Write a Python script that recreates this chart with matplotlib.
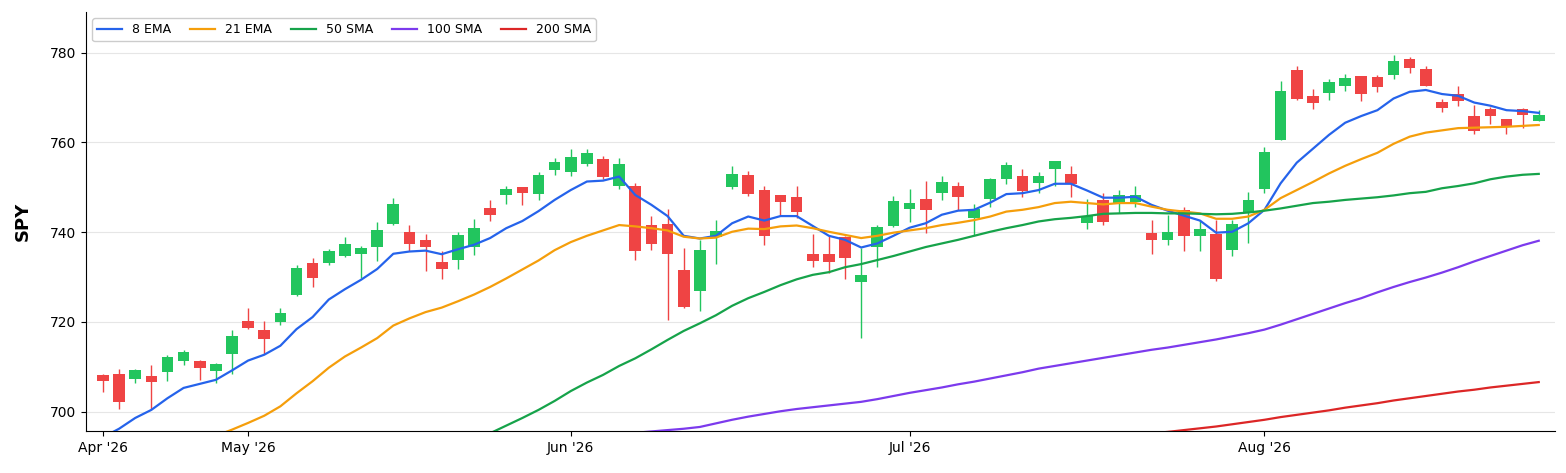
import numpy as np
import pandas as pd
import matplotlib
matplotlib.use("Agg")
import matplotlib.pyplot as plt

# trading days (NYSE holidays removed)
holidays = ["2026-05-25", "2026-06-19", "2026-07-03"]
dates = pd.bdate_range("2026-04-20", "2026-08-26")
dates = dates[~dates.isin(pd.to_datetime(holidays))]

opens = [708.2, 708.4, 707.2, 707.9, 708.8, 711.3, 711.3, 709.0, 712.8, 720.2,
         718.2, 719.9, 726.0, 733.1, 733.1, 734.6, 735.1, 736.7, 741.8, 740.0,
         738.3, 733.3, 733.8, 736.7, 745.3, 748.2, 750.0, 748.5, 753.9, 753.5,
         755.1, 756.3, 750.2, 750.4, 741.6, 741.9, 731.5, 726.8, 739.0, 750.0,
         752.7, 749.3, 748.2, 747.8, 735.1, 735.1, 739.0, 728.9, 736.8, 741.3,
         745.1, 747.3, 748.7, 750.2, 743.1, 747.3, 751.9, 752.5, 750.9, 754.2,
         752.9, 742.0, 747.2, 746.5, 746.7, 739.8, 738.3, 745.0, 739.1, 739.6,
         736.0, 744.4, 749.6, 760.6, 776.1, 770.3, 771.1, 772.6, 774.8, 774.7,
         775.0, 778.7, 776.3, 769.1, 770.7, 766.0, 767.4, 765.2, 767.5, 764.8]
highs = [708.4, 709.6, 709.6, 710.5, 712.7, 713.8, 711.5, 710.9, 718.1, 723.2,
         720.3, 723.2, 732.7, 734.3, 736.2, 739.0, 737.0, 742.2, 747.7, 741.6,
         739.6, 735.8, 740.0, 743.0, 747.2, 750.3, 750.1, 753.5, 756.5, 758.6,
         758.6, 757.0, 756.6, 751.0, 743.6, 745.2, 736.5, 738.3, 742.7, 754.8,
         753.6, 750.3, 748.3, 750.3, 739.5, 739.2, 739.2, 736.4, 741.6, 748.1,
         749.6, 751.5, 752.5, 751.1, 746.3, 752.0, 755.6, 754.2, 753.5, 755.9,
         754.8, 747.3, 748.7, 749.3, 750.2, 742.7, 743.9, 745.7, 742.7, 742.7,
         742.7, 749.0, 758.9, 773.8, 777.1, 771.9, 774.1, 775.2, 774.9, 775.1,
         779.6, 779.1, 777.0, 769.6, 772.6, 768.3, 768.0, 765.3, 767.6, 767.2]
lows = [704.3, 700.7, 706.3, 700.7, 706.9, 710.3, 707.1, 706.5, 708.5, 718.5,
        712.8, 719.4, 725.8, 727.9, 732.6, 734.5, 729.9, 733.5, 741.6, 735.8,
        731.4, 729.6, 731.8, 735.0, 742.5, 746.2, 746.1, 747.2, 752.8, 752.6,
        754.8, 751.9, 749.6, 733.7, 736.1, 720.5, 723.2, 722.5, 733.0, 749.6,
        748.0, 737.2, 743.8, 743.1, 732.2, 730.9, 729.5, 716.5, 732.2, 741.2,
        742.2, 739.9, 747.2, 745.0, 739.4, 745.6, 750.8, 747.9, 748.7, 750.2,
        747.9, 740.7, 741.5, 744.2, 745.7, 735.2, 737.2, 735.9, 735.9, 729.1,
        734.6, 737.7, 748.8, 760.5, 769.5, 767.5, 769.5, 771.5, 769.2, 771.3,
        774.1, 775.5, 772.5, 766.9, 768.2, 761.8, 764.1, 762.0, 763.2, 764.7]
closes = [706.8, 702.1, 709.2, 706.6, 712.2, 713.3, 709.7, 710.7, 716.9, 718.7,
          716.1, 722.0, 732.0, 729.8, 735.8, 737.3, 736.4, 740.5, 746.2, 737.3,
          736.8, 731.8, 739.3, 740.9, 743.8, 749.6, 748.7, 752.8, 755.7, 756.7,
          757.6, 752.4, 755.2, 735.8, 737.3, 735.1, 723.4, 736.0, 740.2, 752.9,
          748.5, 739.2, 746.7, 744.5, 733.6, 733.3, 734.3, 730.4, 741.1, 746.9,
          746.5, 744.9, 751.3, 747.8, 745.2, 751.8, 755.0, 749.1, 752.5, 755.8,
          750.8, 743.6, 742.2, 748.2, 748.2, 738.2, 740.0, 739.1, 740.8, 729.5,
          741.8, 747.1, 757.9, 771.5, 769.8, 768.7, 773.4, 774.3, 770.8, 772.4,
          778.1, 776.5, 772.7, 767.6, 769.2, 762.6, 765.8, 763.7, 766.1, 766.2]

# moving averages (first index where each series is listed)
ema8_start = 0
ema8 = [694.3, 696.2, 698.6, 700.4, 703.0, 705.3, 706.2, 707.1, 709.2, 711.4,
        712.7, 714.7, 718.4, 721.1, 725.0, 727.3, 729.4, 731.8, 735.2, 735.7,
        735.9, 735.1, 736.2, 737.2, 738.7, 740.9, 742.5, 744.7, 747.2, 749.4,
        751.3, 751.5, 752.4, 748.3, 746.1, 743.6, 739.2, 738.6, 739.2, 742.0,
        743.5, 742.6, 743.6, 743.6, 741.4, 739.2, 738.3, 736.6, 737.5, 739.2,
        741.0, 742.0, 743.9, 744.8, 745.0, 746.6, 748.5, 748.7, 749.4, 750.8,
        750.8, 749.3, 747.7, 747.7, 747.9, 746.1, 744.8, 743.7, 742.6, 739.9,
        740.1, 742.0, 745.0, 750.9, 755.5, 758.6, 761.7, 764.4, 765.9, 767.2,
        769.8, 771.3, 771.7, 770.8, 770.4, 768.9, 768.2, 767.2, 767.0, 766.6]
ema21_start = 7
ema21 = [694.6, 696.0, 697.5, 699.1, 701.2, 704.1, 706.8, 709.8, 712.3, 714.3,
         716.4, 719.2, 720.8, 722.2, 723.2, 724.6, 726.1, 727.8, 729.7, 731.7,
         733.7, 736.0, 737.8, 739.2, 740.4, 741.6, 741.3, 740.9, 740.4, 739.0,
         738.6, 738.8, 740.1, 740.8, 740.7, 741.3, 741.5, 740.9, 740.1, 739.4,
         738.7, 739.2, 739.9, 740.4, 740.9, 741.6, 742.1, 742.7, 743.5, 744.6,
         745.0, 745.6, 746.5, 746.8, 746.5, 746.2, 746.5, 746.5, 745.7, 745.0,
         744.6, 744.2, 743.0, 743.0, 743.5, 745.0, 747.6, 749.4, 751.2, 753.1,
         754.8, 756.3, 757.7, 759.7, 761.3, 762.2, 762.7, 763.2, 763.3, 763.4,
         763.5, 763.7, 763.9]
sma50_start = 23
sma50 = [693.5, 695.2, 696.9, 698.6, 700.4, 702.4, 704.6, 706.5, 708.2, 710.2,
         711.9, 713.9, 716.0, 718.0, 719.7, 721.5, 723.6, 725.3, 726.7, 728.2,
         729.5, 730.5, 731.1, 732.2, 732.9, 733.8, 734.7, 735.7, 736.7, 737.5,
         738.3, 739.2, 740.1, 740.9, 741.6, 742.4, 742.9, 743.2, 743.6, 744.1,
         744.2, 744.3, 744.3, 744.2, 744.2, 744.1, 744.0, 744.1, 744.4, 744.8,
         745.3, 745.9, 746.5, 746.8, 747.2, 747.5, 747.8, 748.2, 748.7, 749.0,
         749.8, 750.3, 750.9, 751.8, 752.4, 752.8, 753.0]
sma100_start = 33
sma100 = [695.3, 695.6, 695.9, 696.2, 696.6, 697.4, 698.2, 698.9, 699.5, 700.1,
          700.6, 701.0, 701.4, 701.8, 702.2, 702.8, 703.5, 704.2, 704.8, 705.4,
          706.1, 706.7, 707.4, 708.1, 708.8, 709.6, 710.2, 710.8, 711.4, 712.0,
          712.6, 713.2, 713.8, 714.3, 714.9, 715.5, 716.1, 716.8, 717.5, 718.3,
          719.4, 720.6, 721.8, 723.0, 724.2, 725.3, 726.6, 727.8, 728.9, 729.9,
          731.0, 732.2, 733.5, 734.7, 735.9, 737.1, 738.1]
sma200_start = 64
sma200 = [694.8, 695.2, 695.5, 695.9, 696.3, 696.7, 697.2, 697.7, 698.2, 698.8,
          699.3, 699.8, 700.3, 700.9, 701.4, 701.9, 702.5, 703.0, 703.5, 704.0,
          704.5, 704.9, 705.4, 705.8, 706.2, 706.6]

up_color = "#22c55e"
down_color = "#ef4444"

o = np.array(opens)
h = np.array(highs)
l = np.array(lows)
c = np.array(closes)
x = np.arange(len(o))
cols = np.where(c >= o, up_color, down_color)

fig = plt.figure(figsize=(15.66, 4.73), dpi=100)
ax = fig.add_axes([0.0549, 0.0888, 0.938, 0.886])

ax.grid(axis="y", color="#e6e6e6", linewidth=0.8)
ax.set_axisbelow(True)

ax.vlines(x, l, h, colors=cols, linewidth=1.0, zorder=2)
ax.bar(x, np.abs(c - o), bottom=np.minimum(o, c), width=0.72, color=cols, zorder=3)

lines = [
    (ema8_start, ema8, "#2563eb", "8 EMA"),
    (ema21_start, ema21, "#f59e0b", "21 EMA"),
    (sma50_start, sma50, "#16a34a", "50 SMA"),
    (sma100_start, sma100, "#7c3aed", "100 SMA"),
    (sma200_start, sma200, "#dc2626", "200 SMA"),
]
for start, vals, col, lab in lines:
    xs = np.arange(start, start + len(vals))
    ax.plot(xs, vals, color=col, linewidth=1.6, label=lab, zorder=4)

# month ticks at first trading day of each month
months = dates.to_period("M")
first = [0] + [i for i in range(1, len(dates)) if months[i] != months[i - 1]]
ax.set_xticks(first)
ax.set_xticklabels([dates[i].strftime("%b '%y") for i in first], fontsize=10)
ax.set_yticks([700, 720, 740, 760, 780])
ax.tick_params(axis="y", labelsize=10)

ax.set_xlim(-1.05, 90.0)
ax.set_ylim(695.7, 789.1)
ax.set_ylabel("SPY", fontsize=13, fontweight="bold", labelpad=13)

ax.spines["top"].set_visible(False)
ax.spines["right"].set_visible(False)

ax.legend(loc="upper left", ncol=5, fontsize=9, framealpha=1.0,
          edgecolor="#cccccc", handlelength=2.0, columnspacing=1.5)

fig.savefig("out.png", dpi=100)
